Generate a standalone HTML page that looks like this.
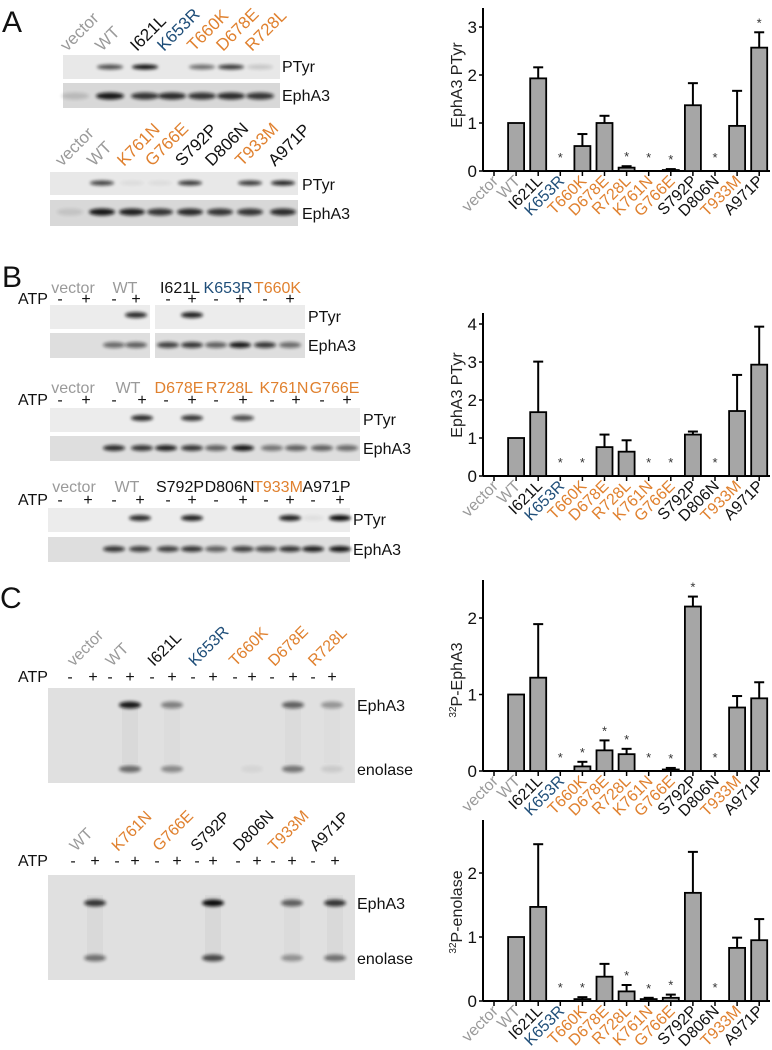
<!DOCTYPE html>
<html><head><meta charset="utf-8"><style>
body{margin:0;background:#fff}
svg{display:block;font-family:"Liberation Sans",Arial,sans-serif}
</style></head><body>
<svg id="fig" width="772" height="1050" viewBox="0 0 772 1050" xmlns="http://www.w3.org/2000/svg">
<defs>
<filter id="blur" x="-50%" y="-100%" width="200%" height="300%"><feGaussianBlur stdDeviation="1.6"/></filter>
</defs>
<g id="left"></g>
<g id="charts"></g>
</svg>
<script>
const NS='http://www.w3.org/2000/svg';
const svg=document.getElementById('fig');
const left=document.getElementById('left');
const chartsG=document.getElementById('charts');
const GRAY='#9a9a9a',BLUE='#1f4e79',OR='#e0812f',BLK='#111';
function mk(tag,attrs,parent,txt){const e=document.createElementNS(NS,tag);for(const k in attrs)e.setAttribute(k,attrs[k]);if(txt!==undefined)e.textContent=txt;(parent||svg).appendChild(e);return e;}

// ---------- Chart data ----------
const categories=['vector','WT','I621L','K653R','T660K','D678E','R728L','K761N','G766E','S792P','D806N','T933M','A971P'];
const catColors=[GRAY,GRAY,BLK,BLUE,OR,OR,OR,OR,OR,BLK,BLK,OR,BLK];
const aValues=[0,1,1.93,0,0.52,1.0,0.07,0,0.02,1.37,0,0.94,2.57];
const aErrors=[0,0,0.23,0,0.25,0.15,0.03,0,0.02,0.46,0,0.73,0.32];
const aStars=[3,6,7,8,10,12];
const aTicks=['0','1','2','3'];
const bValues=[0,1,1.68,0,0,0.76,0.64,0,0,1.09,0,1.71,2.93];
const bErrors=[0,0,1.33,0,0,0.33,0.30,0,0,0.08,0,0.95,1.0];
const bStars=[3,4,7,8,10];
const bTicks=['0','1','2','3','4'];
const c1Values=[0,1,1.22,0,0.06,0.27,0.22,0,0.02,2.15,0,0.83,0.95];
const c1Errors=[0,0,0.70,0,0.06,0.13,0.07,0,0.02,0.13,0,0.15,0.21];
const c1Stars=[3,4,5,6,7,8,9,10];
const c1Ticks=['0','1','2'];
const c2Values=[0,1,1.47,0,0.03,0.38,0.15,0.03,0.05,1.69,0,0.83,0.95];
const c2Errors=[0,0,0.98,0,0.03,0.20,0.10,0.02,0.05,0.64,0,0.16,0.33];
const c2Stars=[3,4,6,7,8,10];
const c2Ticks=['0','1','2'];

function drawChart(name,cfg,values,errors,stars,ticks,title){
  const g=mk('g',{},chartsG);
  
  
  const x=i=>494+i*22.1;
  const y=v=>cfg.y0-v*cfg.unit;
  const ya=mk('line',{x1:483,y1:cfg.top,x2:483,y2:cfg.y0,stroke:'#000','stroke-width':2},g);
  
  const xa=mk('line',{x1:483,y1:cfg.y0,x2:770,y2:cfg.y0,stroke:'#000','stroke-width':2},g);
  
  ticks.forEach(t=>{const v=parseFloat(t);
    mk('line',{x1:479,y1:y(v),x2:483,y2:y(v),stroke:'#000','stroke-width':1.5},g);
    const tl=mk('text',{x:477,y:y(v)+6,'text-anchor':'end','font-size':17,fill:'#111'},g,t);
    
  });
  const tt=mk('text',{transform:`translate(${cfg.tx},${cfg.tcy}) rotate(-90)`,'text-anchor':'middle','font-size':16,fill:'#222'},g);
  
  title.forEach(p=>{mk('tspan',p.sup?{'font-size':10,dy:-6}:{dy:p.dy||0},tt,p.t);});
  categories.forEach((c,i)=>{
    mk('line',{x1:x(i),y1:cfg.y0,x2:x(i),y2:cfg.y0+5,stroke:'#000','stroke-width':1.5},g);
    const lb=mk('text',{transform:`translate(${x(i)+5},${cfg.y0+11}) rotate(-45)`,'text-anchor':'end','font-size':16,fill:catColors[i]},g,c);
    
    const v=values[i],e=errors[i];
    if(v>0){
      if(e>0){
        const el=mk('line',{x1:x(i),y1:y(v),x2:x(i),y2:y(v+e),stroke:'#000','stroke-width':2},g);
        
        mk('line',{x1:x(i)-5,y1:y(v+e),x2:x(i)+5,y2:y(v+e),stroke:'#000','stroke-width':2},g);
      }
      const b=mk('rect',{x:x(i)-8,y:y(v),width:16,height:cfg.y0-y(v),fill:'#a6a6a6',stroke:'#000','stroke-width':1.8},g);
      
    }
    if(stars.includes(i)){
      const s=mk('text',{x:x(i),y:y(v+e)-(v+e===0?9:5),'text-anchor':'middle','font-size':13,fill:'#333'},g,'*');
      
    }
  });
}
drawChart('chart-a-ptyr',{y0:171,unit:48,top:8,tx:462,tcy:85},aValues,aErrors,aStars,aTicks,[{t:'EphA3 PTyr'}]);
drawChart('chart-b-ptyr',{y0:476,unit:38,top:313,tx:462,tcy:395},bValues,bErrors,bStars,bTicks,[{t:'EphA3 PTyr'}]);
drawChart('chart-c-32p-epha3',{y0:771,unit:76.5,top:580,tx:462,tcy:680},c1Values,c1Errors,c1Stars,c1Ticks,[{t:'32',sup:true},{t:'P-EphA3',dy:6}]);
drawChart('chart-c-32p-enolase',{y0:1001,unit:64,top:820,tx:462,tcy:912},c2Values,c2Errors,c2Stars,c2Ticks,[{t:'32',sup:true},{t:'P-enolase',dy:6}]);

// ---------- Blots ----------
function panelLabel(t,x,y){const e=mk('text',{x,y,'font-size':30,fill:'#111'},left,t);}
panelLabel('A',2,32);panelLabel('B',2,287);panelLabel('C',0,608);
function strip(name,x,y,w,h,bg){const r=mk('rect',{x,y,width:w,height:h,fill:bg||'#ececec'},left);return r;}
function band(cx,cy,w,h,op){mk('ellipse',{cx,cy,rx:w/2,ry:h/2,fill:'#111',opacity:op,filter:'url(#blur)'},left);}
function rlabel(t,x,y,col,fs){const e=mk('text',{transform:`translate(${x},${y}) rotate(-45)`,'font-size':fs||16,fill:col},left,t);}
function hlabel(t,x,y,col){const e=mk('text',{x,y,'font-size':16,fill:col,'text-anchor':'middle'},left,t);}
function side(t,x,y){const e=mk('text',{x,y,'font-size':16,fill:'#111'},left,t);}
function atpRow(y,xs){const a=mk('text',{x:18,y,'font-size':16,fill:'#111'},left,'ATP');
  xs.forEach((x,i)=>mk('text',{x,y,'font-size':16,fill:'#111','text-anchor':'middle'},left,i%2?'+':'-'));}

const aTopLanes=[75,110,145,172,202,231,260];
const aTopNames=['vector','WT','I621L','K653R','T660K','D678E','R728L'];
const aTopCols=[GRAY,GRAY,BLK,BLUE,OR,OR,OR];
aTopNames.forEach((n,i)=>rlabel(n,aTopLanes[i]-8,52,aTopCols[i],17));
strip('blot-a1-ptyr',63,55,217,24,'#e8e8e8');strip('blot-a1-epha3',63,83,217,25,'#d8d8d8');
[0,0.7,1,0,0.55,0.8,0.15].forEach((o,i)=>o&&band(aTopLanes[i],67,26,5,o));
[0.15,0.95,0.8,0.85,0.8,0.85,0.8].forEach((o,i)=>band(aTopLanes[i],96,28,7,o));
side('PTyr',282,72);side('EphA3',282,101);
const aBL=[70,102,132,160,190,220,250,283];
const aBN=['vector','WT','K761N','G766E','S792P','D806N','T933M','A971P'];
const aBC=[GRAY,GRAY,OR,OR,BLK,BLK,OR,BLK];
aBN.forEach((n,i)=>rlabel(n,aBL[i]-8,167,aBC[i],17));
strip('blot-a2-ptyr',50,172,248,23,'#e8e8e8');strip('blot-a2-epha3',50,200,248,26,'#d8d8d8');
[0,0.75,0.05,0.05,0.8,0,0.8,0.9].forEach((o,i)=>o&&band(aBL[i],183,24,5,o));
[0.1,0.95,0.9,0.8,0.85,0.8,0.8,0.85].forEach((o,i)=>band(aBL[i],212,26,7,o));
side('PTyr',302,190);side('EphA3',302,219);

function bBlot(id,names,cols,nameY,atpY,lanes,yP,yE,pt,ep,x0,x1,split){
  names.forEach((n,i)=>hlabel(n,(lanes[2*i]+lanes[2*i+1])/2,nameY,cols[i]));
  atpRow(atpY,lanes);
  if(split){strip(id+'-ptyr',x0,yP,split-x0-2,24);strip(id+'-ptyr-b',split+3,yP,x1-split-3,24);
    strip(id+'-epha3',x0,yE,split-x0-2,25,'#dedede');strip(id+'-epha3-b',split+3,yE,x1-split-3,25,'#dedede');}
  else{strip(id+'-ptyr',x0,yP,x1-x0,24);strip(id+'-epha3',x0,yE,x1-x0,25,'#dedede');}
  pt.forEach((o,i)=>o&&band(lanes[i],yP+10,22,6,o));
  ep.forEach((o,i)=>o&&band(lanes[i],yE+12,22,6,o));
  side('PTyr',x1+3,yP+17);side('EphA3',x1+3,yE+18);
}
bBlot('blot-b1',['vector','WT','I621L','K653R','T660K'],[GRAY,GRAY,BLK,BLUE,OR],293,304,[60,86,114,136,168,192,216,240,265,290],305,333,
  [0,0,0,0.85,0,0.9,0,0,0,0],[0,0,0.55,0.6,0.75,0.8,0.6,0.95,0.8,0.55],50,305,152);
bBlot('blot-b2',['vector','WT','D678E','R728L','K761N','G766E'],[GRAY,GRAY,OR,OR,OR,OR],393,405,[60,86,114,142,166,192,216,243,272,296,322,347],408,436,
  [0,0,0,0.85,0,0.8,0,0.7,0,0,0,0],[0,0,0.85,0.8,0.9,0.8,0.6,0.95,0.5,0.6,0.6,0.55],50,360);
bBlot('blot-b3',['vector','WT','S792P','D806N','T933M','A971P'],[GRAY,GRAY,BLK,BLK,OR,BLK],492,505,[60,88,114,140,168,192,216,243,266,290,313,340],508,537,
  [0,0,0,0.85,0,0.9,0,0,0,0.9,0.05,1],[0,0,0.8,0.75,0.75,0.8,0.6,0.75,0.7,0.8,0.9,0.95],48,350);

function cGel(id,names,cols,nameY,atpY,lanes,y0,y1,eph,eno){
  names.forEach((n,i)=>rlabel(n,(lanes[2*i]+lanes[2*i+1])/2-8,nameY,cols[i],16));
  atpRow(atpY,lanes);
  strip(id,48,y0,307,y1-y0,'#e0e0e0');
  eph.forEach((o,i)=>o&&mk('rect',{x:lanes[i]-8,y:y0+20,width:16,height:y1-y0-40,fill:'#000',opacity:o*0.035},left));
  eph.forEach((o,i)=>o&&band(lanes[i],y0+(id==='gel-c1'?17:28),22,7,o));
  eno.forEach((o,i)=>o&&band(lanes[i],y1-(id==='gel-c1'?14:22),22,7,o));
  side('EphA3',357,y0+(id==='gel-c1'?23:34));side('enolase',357,y1-(id==='gel-c1'?8:16));
}
cGel('gel-c1',['vector','WT','I621L','K653R','T660K','D678E','R728L'],[GRAY,GRAY,BLK,BLUE,OR,OR,OR],667,682,
  [70,93,110,130,152,172,193,213,235,252,272,293,313,332],688,783,
  [0,0,0,0.95,0,0.45,0,0,0,0,0,0.6,0,0.35],[0,0,0,0.55,0,0.4,0,0,0,0.05,0,0.5,0,0.1]);
cGel('gel-c2',['WT','K761N','G766E','S792P','D806N','T933M','A971P'],[GRAY,OR,OR,BLK,BLK,OR,BLK],852,866,
  [73,95,117,135,157,177,197,213,238,257,273,292,313,335],875,980,
  [0,0.8,0,0,0,0,0,1,0,0,0,0.6,0,0.8],[0,0.5,0,0,0,0,0,0.7,0,0,0,0.35,0,0.5]);
</script>
</body></html>
